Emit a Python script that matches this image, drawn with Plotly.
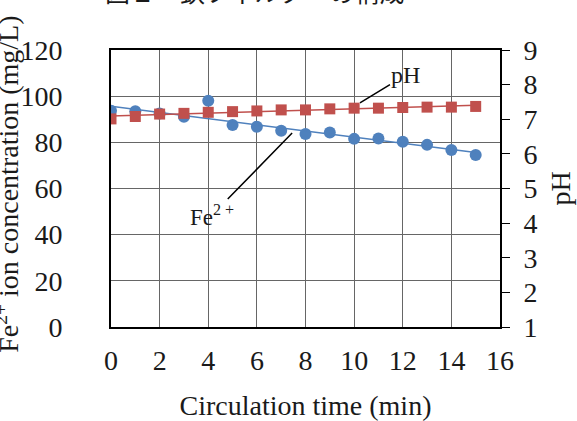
import numpy as np
import plotly.graph_objects as go

# Circulation time (min)
time_min = list(range(16))
# Fe2+ ion concentration (mg/L)
fe_conc = [93.7, 93.5, 92.5, 91.1, 98.0, 87.5, 86.8, 85.0, 83.6, 84.3, 81.5, 81.7, 80.3, 78.9, 76.7, 74.5]
# pH
ph_vals = [7.01, 7.08, 7.15, 7.17, 7.20, 7.22, 7.24, 7.27, 7.27, 7.30, 7.32, 7.32, 7.34, 7.35, 7.35, 7.37]

x_ticks = [0, 2, 4, 6, 8, 10, 12, 14, 16]
y_ticks = [0, 20, 40, 60, 80, 100, 120]
y2_ticks = [1, 2, 3, 4, 5, 6, 7, 8, 9]

BLUE = "#4F81BD"
RED = "#C0504D"
SERIF = "Liberation Serif, Times New Roman, serif"
FS = 28
CLEAR = "rgba(0,0,0,0)"

t = np.array(time_min, dtype=float)
fe_fit = np.polyval(np.polyfit(t, fe_conc, 1), t)
ph_fit = np.polyval(np.polyfit(t, ph_vals, 1), t)

fig = go.Figure()
fig.add_trace(go.Scatter(x=time_min, y=fe_conc, mode="markers",
                         marker=dict(symbol="circle", size=12, color=BLUE),
                         yaxis="y", showlegend=False))
fig.add_trace(go.Scatter(x=time_min, y=fe_fit, mode="lines",
                         line=dict(color=BLUE, width=1.5),
                         yaxis="y", showlegend=False))
fig.add_trace(go.Scatter(x=time_min, y=ph_fit, mode="lines",
                         line=dict(color=RED, width=1.5),
                         yaxis="y2", showlegend=False))
fig.add_trace(go.Scatter(x=time_min, y=ph_vals, mode="markers",
                         marker=dict(symbol="square", size=11, color=RED),
                         yaxis="y2", showlegend=False))

fig.update_layout(
    width=577, height=421,
    margin=dict(l=111, r=77, t=50, b=94),
    paper_bgcolor="white", plot_bgcolor="white",
    font=dict(family=SERIF, size=FS, color="#1a1a1a"),
    xaxis=dict(range=[0, 16], tickvals=x_ticks, showgrid=True, automargin=False,
               gridcolor="#666", gridwidth=1, zeroline=False,
               showline=True, linecolor="black", linewidth=2, mirror=True,
               ticks="outside", ticklen=7, tickcolor=CLEAR,
               tickfont=dict(size=FS),
               title=dict(text="Circulation time (min)", standoff=26,
                          font=dict(size=FS))),
    yaxis=dict(range=[0, 120], tickvals=y_ticks, showgrid=True, automargin=False,
               gridcolor="#666", gridwidth=1, zeroline=False,
               showline=True, linecolor="black", linewidth=2,
               ticks="outside", ticklen=17, tickcolor=CLEAR,
               tickfont=dict(size=FS), ticklabelstandoff=24),
    yaxis2=dict(range=[1, 9], tickvals=y2_ticks, overlaying="y", side="right",
                showgrid=False, zeroline=False, automargin=False,
                showline=True, linecolor="black", linewidth=2,
                ticks="outside", ticklen=8, tickcolor="black", tickwidth=1,
                tickfont=dict(size=FS), ticklabelstandoff=8,
                title=dict(text="pH", standoff=14, font=dict(size=FS))),
)

# Left axis title
fig.add_annotation(x=-0.268, y=0.516, xref="paper", yref="paper",
                   xanchor="center", yanchor="middle", textangle=-90,
                   text="Fe<sup>2+</sup> ion concentration (mg/L)", showarrow=False,
                   font=dict(family=SERIF, size=FS, color="#1a1a1a"))

# Series labels with leader lines
fig.add_annotation(x=10.24, y=7.47, xref="x", yref="y2", text="pH",
                   showarrow=True, arrowhead=0, arrowwidth=1.5, arrowcolor="black",
                   ax=46, ay=-28, font=dict(family=SERIF, size=24, color="#1a1a1a"))
fig.add_annotation(x=7.45, y=84, xref="x", yref="y", text="Fe<sup>2 +</sup>",
                   showarrow=True, arrowhead=0, arrowwidth=1.5, arrowcolor="black",
                   ax=-80, ay=82, font=dict(family=SERIF, size=23, color="#1a1a1a"))

# Figure caption above the chart
fig.add_annotation(x=0.37, y=1.14, xref="paper", yref="paper", xanchor="center",
                   yanchor="bottom", text="図１　鉄フィルターの構成", showarrow=False,
                   font=dict(family="Noto Sans CJK JP", size=25, color="#1a1a1a"))

fig.write_html("out.html")
